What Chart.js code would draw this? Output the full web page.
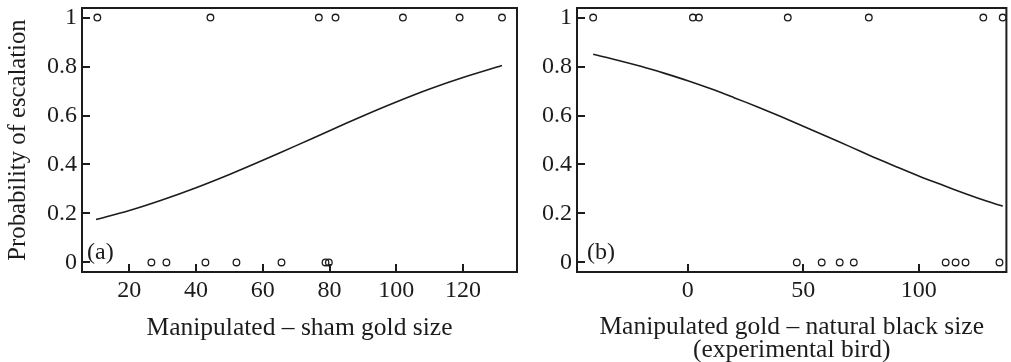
<!DOCTYPE html>
<html><head><meta charset="utf-8">
<script src="https://cdn.jsdelivr.net/npm/chart.js@4.4.0/dist/chart.umd.min.js"></script>
<style>
html,body{margin:0;padding:0;background:#fff;}
#wrap{position:relative;width:1011px;height:362px;overflow:hidden;}
#ca{position:absolute;left:0;top:0;}
#cb{position:absolute;left:540px;top:0;}
</style></head><body>
<div id="wrap"><canvas id="ca" width="540" height="362"></canvas><canvas id="cb" width="471" height="362"></canvas></div>
<script>
// Panel (a): manipulated - sham gold size
const shamEscalated = [10.4, 44.3, 76.8, 81.8, 102, 119, 131.7];
const shamNotEscalated = [26.6, 31.1, 42.8, 52.1, 65.6, 78.8, 79.8];
const shamCurveX = [10, 20, 30, 40, 50, 60, 70, 80, 90, 100, 110, 120, 131.7];
const shamCurveP = [0.175, 0.212, 0.256, 0.305, 0.359, 0.417, 0.477, 0.538, 0.598, 0.655, 0.708, 0.755, 0.804];
// Panel (b): manipulated gold - natural black size
const diffEscalated = [-41, 2.2, 4.8, 43.3, 78.4, 128, 136.4];
const diffNotEscalated = [47.2, 58, 65.8, 71.9, 111.7, 116, 120.3, 135];
const diffCurveX = [-41, -30, -20, -10, 0, 10, 20, 30, 40, 50, 60, 70, 80, 90, 100, 110, 120, 130, 136.4];
const diffCurveP = [0.850, 0.825, 0.800, 0.772, 0.742, 0.709, 0.673, 0.636, 0.597, 0.556, 0.515, 0.474, 0.432, 0.392, 0.353, 0.317, 0.282, 0.249, 0.230];
// Tick labels
const yTickValues = [0, 0.2, 0.4, 0.6, 0.8, 1];
const yTickLabels = ['0', '0.2', '0.4', '0.6', '0.8', '1'];
const xTickValuesA = [20, 40, 60, 80, 100, 120];
const xTickLabelsA = ['20', '40', '60', '80', '100', '120'];
const xTickValuesB = [0, 50, 100];
const xTickLabelsB = ['0', '50', '100'];
const yTitle = 'Probability of escalation';
const xTitleA = 'Manipulated \u2013 sham gold size';
const xTitleB = ['Manipulated gold \u2013 natural black size', '(experimental bird)'];

const INK = '#1c1c1c';
const FONT = 'Liberation Serif';

const framePlugin = {
  id: 'frame',
  afterDraw(chart, args, opts) {
    const {ctx, chartArea: a, scales: {x, y}} = chart;
    ctx.save();
    ctx.strokeStyle = INK;
    ctx.lineWidth = 2;
    ctx.strokeRect(a.left, a.top, a.right - a.left, a.bottom - a.top);
    ctx.beginPath();
    x.ticks.forEach(t => { const px = Math.round(x.getPixelForValue(t.value)); ctx.moveTo(px, a.bottom); ctx.lineTo(px, a.bottom - 8); });
    y.ticks.forEach(t => { const py = Math.round(y.getPixelForValue(t.value)); ctx.moveTo(a.left, py); ctx.lineTo(a.left + 8, py); });
    ctx.stroke();
    ctx.fillStyle = INK;
    ctx.font = '24px "' + FONT + '"';
    ctx.textBaseline = 'middle';
    ctx.textAlign = 'left';
    ctx.fillText(opts.label, a.left + opts.dx, y.getPixelForValue(0) - 10);
    ctx.restore();
  }
};

function pts(arr, yv) { return arr.map(v => ({x: v, y: yv})); }
function curve(xs, ps) { return xs.map((v, i) => ({x: v, y: ps[i]})); }

function makeChart(id, cfg) {
  const pointStyle = {
    showLine: false, pointRadius: 3.3, pointHoverRadius: 3.3, pointBorderWidth: 1.3,
    pointBorderColor: INK, pointBackgroundColor: 'rgba(0,0,0,0)', borderColor: INK
  };
  return new Chart(document.getElementById(id), {
    type: 'scatter',
    data: {
      datasets: [
        Object.assign({label: 'escalated', data: pts(cfg.esc, 1)}, pointStyle),
        Object.assign({label: 'not escalated', data: pts(cfg.noEsc, 0)}, pointStyle),
        {label: 'fit', data: curve(cfg.cx, cfg.cp), showLine: true, pointRadius: 0, borderColor: INK, borderWidth: 1.6, tension: 0.3, fill: false}
      ]
    },
    options: {
      responsive: false, animation: false, devicePixelRatio: 1,
      layout: {padding: {left: 0, right: cfg.padRight, top: 8, bottom: 0}},
      plugins: {legend: {display: false}, tooltip: {enabled: false}, frame: {label: cfg.letter, dx: cfg.letterDx}},
      scales: {
        x: {
          type: 'linear', min: cfg.xmin, max: cfg.xmax,
          afterBuildTicks: s => { s.ticks = cfg.xtv.map(v => ({value: v})); },
          afterFit: s => { s.height = 90; s.paddingLeft = 0; s.paddingRight = 0; },
          grid: {display: false, drawTicks: false}, border: {display: false},
          ticks: {font: {family: FONT, size: 24}, color: INK, padding: 4.5, maxRotation: 0, autoSkip: false,
                  callback: (v, i) => cfg.xtl[i]},
          title: {display: true, text: cfg.xtitle, color: INK, font: {family: FONT, size: 25.5, lineHeight: 0.9},
                  padding: {top: 0, bottom: cfg.titlePad}}
        },
        y: {
          type: 'linear', min: -0.039, max: 1.039,
          afterBuildTicks: s => { s.ticks = yTickValues.map(v => ({value: v})); },
          afterFit: s => { s.width = cfg.yWidth; s.paddingTop = 0; s.paddingBottom = 0; },
          grid: {display: false, drawTicks: false}, border: {display: false},
          ticks: {font: {family: FONT, size: 24}, color: INK, padding: 5, autoSkip: false,
                  callback: (v, i) => yTickLabels[i]},
          title: {display: cfg.showYTitle, text: yTitle, color: INK, font: {family: FONT, size: 24.7, lineHeight: 1.2},
                  padding: {top: 3.2, bottom: 0}}
        }
      }
    },
    plugins: [framePlugin]
  });
}

makeChart('ca', {
  esc: shamEscalated, noEsc: shamNotEscalated, cx: shamCurveX, cp: shamCurveP,
  xmin: 5.8, xmax: 136.2, xtv: xTickValuesA, xtl: xTickLabelsA, xtitle: xTitleA,
  titlePad: 22.5, yWidth: 82, padRight: 23, showYTitle: true, letter: '(a)', letterDx: 5
});
makeChart('cb', {
  esc: diffEscalated, noEsc: diffNotEscalated, cx: diffCurveX, cp: diffCurveP,
  xmin: -48, xmax: 138, xtv: xTickValuesB, xtl: xTickLabelsB, xtitle: xTitleB,
  titlePad: 0, yWidth: 37, padRight: 4, showYTitle: false, letter: '(b)', letterDx: 10
});
</script>
</body></html>
